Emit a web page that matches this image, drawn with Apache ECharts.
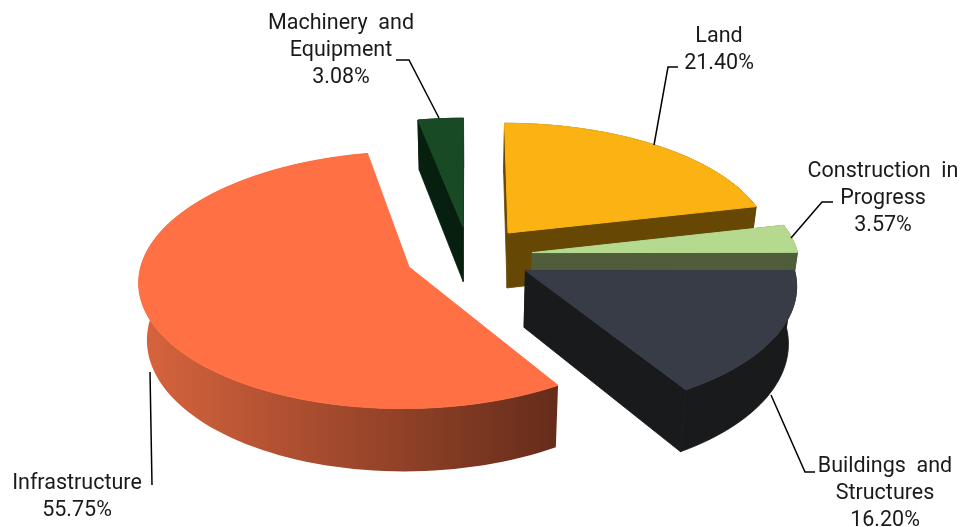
<!DOCTYPE html>
<html><head><meta charset="utf-8">
<style>html,body{margin:0;padding:0;background:#fff}#c{width:961px;height:527px}</style>
<script src="https://cdn.jsdelivr.net/npm/echarts@6/dist/echarts.min.js"></script>
</head><body><div id="c"></div>
<script>
// Data, clockwise from 12 o'clock
const categories = ['Land', 'Construction in Progress', 'Buildings and Structures', 'Infrastructure', 'Machinery and Equipment'];
const shares = [21.40, 3.57, 16.20, 55.75, 3.08];
const labelLines = [['Land', '21.40%'], ['Construction\u00a0\u00a0in', 'Progress', '3.57%'], ['Buildings\u00a0\u00a0and', 'Structures', '16.20%'], ['Infrastructure', '55.75%'], ['Machinery\u00a0\u00a0and', 'Equipment', '3.08%']];
const topColors = ['#fbb313', '#b5da8f', '#383c46', '#ff7045', '#174a25'];
const wallColors = ['#664703', '#4f5d3b', '#181a1c', '#a84c2e', '#071f0f'];
const infraWallStops = ['#d8643e', '#652c1a'];
// Layout
const drawOrder = [4, 0, 1, 2, 3];
const labelCenters = [[719, 50], [883, 199], [885, 494], [77, 497], [341, 51]];
const leaders = [
  [[678, 67], [668, 67], [654, 145]],
  [[833, 202], [822, 202], [791, 238]],
  [[815, 472], [805, 472], [771, 395]],
  [[152, 485], [150, 372]],
  [[396, 60], [409, 60], [439, 118]]
];
const wallDepths = [56, 18, 56, 56, 56];
const C = { x: 469, y: 256, rx: 266, ry: 125, persp: 0.10, explode: 0.24, floorShrinkPerPx: 0.025 / 56 };

// Unit-disc point (X right, Y away from viewer) to screen, with perspective
function project(X, Y) {
  const s = 1 / (1 + C.persp * Y);
  return { x: C.x + C.rx * X * s, y: C.y - C.ry * Y * s, s };
}
const total = shares.reduce((a, b) => a + b, 0);
let acc = 0;
const slices = shares.map(v => {
  const a0 = acc / total * 360; acc += v; const a1 = acc / total * 360;
  const mid = (a0 + a1) / 2 * Math.PI / 180;
  return { a0, a1, ox: C.explode * Math.sin(mid), oy: C.explode * Math.cos(mid) };
});

function sliceShapes(i) {
  const sl = slices[i];
  const depth = wallDepths[i];
  const n = Math.max(4, Math.ceil((sl.a1 - sl.a0) / 2));
  const arc = [];
  for (let k = 0; k <= n; k++) {
    const t = (sl.a0 + (sl.a1 - sl.a0) * k / n) * Math.PI / 180;
    arc.push(project(sl.ox + Math.sin(t), sl.oy + Math.cos(t)));
  }
  const apex = project(sl.ox, sl.oy);
  const floor = 1 - C.floorShrinkPerPx * depth;
  const up = p => [p.x, p.y];
  const down = p => [C.x + (p.x - C.x) * floor, p.y + depth * p.s];
  const flat = wallColors[i];
  const wallStroke = i === 3 ? null : flat;
  const bandFill = i === 3
    ? { type: 'linear', x: 0, y: 0, x2: 1, y2: 0, colorStops: [{ offset: 0, color: infraWallStops[0] }, { offset: 1, color: infraWallStops[1] }] }
    : flat;
  const first = arc[0], last = arc[arc.length - 1];
  const band = arc.map(up).concat(arc.slice().reverse().map(down));
  const children = [];
  if (i !== 3) {
    children.push({ type: 'polygon', shape: { points: [up(apex), up(first), down(first), down(apex)] }, style: { fill: flat, stroke: flat, lineWidth: 0.8 } });
    children.push({ type: 'polygon', shape: { points: [up(apex), up(last), down(last), down(apex)] }, style: { fill: flat, stroke: flat, lineWidth: 0.8 } });
  }
  children.push({ type: 'polygon', shape: { points: band }, style: { fill: bandFill, stroke: wallStroke, lineWidth: 0.8 } });
  children.push({ type: 'polygon', shape: { points: [up(apex)].concat(arc.map(up)) }, style: { fill: topColors[i], stroke: topColors[i], lineWidth: 1 } });
  return children;
}

function labelShapes(i) {
  const [lx, ly] = labelCenters[i];
  return [
    { type: 'polyline', shape: { points: leaders[i] }, style: { stroke: '#000', lineWidth: 1.5, fill: null } },
    { type: 'text', style: { x: lx, y: ly, text: labelLines[i].join('\n'), fill: '#1a1a1a', font: '400 21.5px Roboto', lineHeight: 27, align: 'center', verticalAlign: 'middle' } }
  ];
}

const chart = echarts.init(document.getElementById('c'), null, { renderer: 'canvas' });
chart.setOption({
  animation: false,
  backgroundColor: '#fff',
  series: [{
    type: 'custom',
    coordinateSystem: 'none',
    data: drawOrder.map(i => [i, shares[i]]),
    renderItem(params, api) {
      return { type: 'group', children: sliceShapes(api.value(0)) };
    }
  }, {
    type: 'custom',
    coordinateSystem: 'none',
    z: 5,
    data: categories.map((c, i) => ({ name: c, value: [i, shares[i]] })),
    renderItem(params, api) {
      return { type: 'group', children: labelShapes(api.value(0)) };
    }
  }]
});
</script></body></html>
